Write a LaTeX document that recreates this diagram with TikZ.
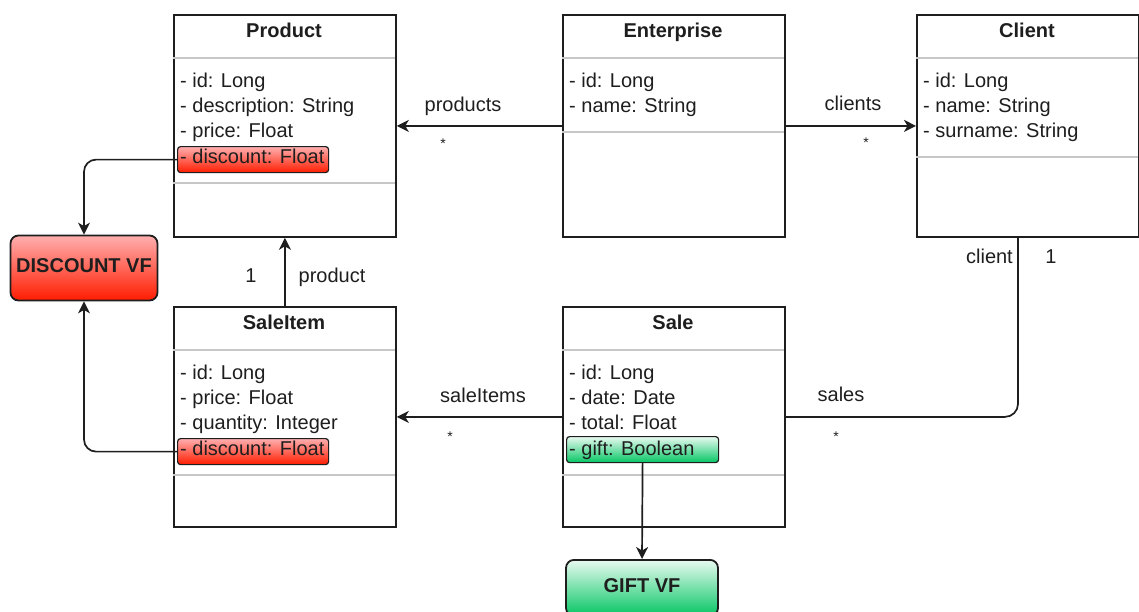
\documentclass[tikz,border=0pt]{standalone}
\usepackage{fontspec}
\setmainfont{Liberation Sans}
\usetikzlibrary{arrows.meta}

\definecolor{ink}{RGB}{30,30,30}
\definecolor{redtop}{RGB}{255,175,175}
\definecolor{redmid}{RGB}{255,60,50}
\definecolor{redbot}{RGB}{255,28,0}
\definecolor{greentop}{RGB}{232,250,240}
\definecolor{greenmid}{RGB}{110,226,165}
\definecolor{greenbot}{RGB}{5,198,100}

\tikzset{
  txt/.style={font=\fontsize{20}{24}\selectfont, text=ink, inner sep=0pt},
  classbox/.style={draw=ink, line width=1.8pt, fill=white, inner sep=0pt,
    minimum width=222pt, anchor=north west},
  classtitle/.style={txt, font=\fontsize{20}{24}\selectfont\bfseries, anchor=base},
  attr/.style={txt, anchor=base west},
  sepline/.style={draw=black!22, line width=2.2pt},
  redfield/.style={draw=ink, line width=1.2pt, rounded corners=3pt,
    top color=redtop, middle color=redmid, bottom color=redbot,
    minimum width=151pt, minimum height=26pt, inner sep=0pt, anchor=north west},
  greenfield/.style={redfield, top color=greentop, middle color=greenmid, bottom color=greenbot},
  vfbox/.style={draw=ink, line width=1.8pt, rounded corners=8pt, inner sep=0pt},
  vftext/.style={txt, font=\fontsize{20}{24}\selectfont\bfseries, anchor=base},
  rolelabel/.style={txt, anchor=base},
  star/.style={txt, font=\fontsize{14}{16}\selectfont, anchor=base},
  assoc/.style={draw=ink, line width=1.7pt},
  conn/.style={assoc, -{Stealth[length=12pt,width=12pt,inset=3.5pt]}},
}

\begin{document}
\begin{tikzpicture}[x=1pt,y=-1pt]
\useasboundingbox (0,0) rectangle (1139,611);

% ---------- classes ----------
\node[classbox, minimum height=222pt] (product) at (173,14) {};
\node[classbox, minimum height=222pt] (ent)     at (562,14) {};
\node[classbox, minimum height=222pt] (client)  at (916,14) {};
\node[classbox, minimum height=220pt] (saleitem) at (173,306) {};
\node[classbox, minimum height=220pt] (sale)     at (562,306) {};

% compartment separators
\draw[sepline] (173,58) -- (395,58);   \draw[sepline] (173,183) -- (395,183);
\draw[sepline] (562,58) -- (784,58);   \draw[sepline] (562,132) -- (784,132);
\draw[sepline] (916,58) -- (1138,58);  \draw[sepline] (916,157) -- (1138,157);
\draw[sepline] (173,350) -- (395,350); \draw[sepline] (173,475) -- (395,475);
\draw[sepline] (562,350) -- (784,350); \draw[sepline] (562,475) -- (784,475);

% highlighted fields
\node[redfield]   (pdisc) at (177,146) {};
\node[redfield]   (sdisc) at (177,438) {};
\node[greenfield, minimum width=152pt] (gift) at (566,436) {};

% titles
\node[classtitle] (productT)  at (284,37)  {Product};
\node[classtitle] (entT)      at (673,37)  {Enterprise};
\node[classtitle] (clientT)   at (1027,37) {Client};
\node[classtitle] (saleitemT) at (284,329) {SaleItem};
\node[classtitle] (saleT)     at (673,329) {Sale};

% attributes
\node[attr] (p1) at (180,87)  {- id: Long};
\node[attr] (p2) at (180,112) {- description: String};
\node[attr] (p3) at (180,137) {- price: Float};
\node[attr] (p4) at (180,163) {- discount: Float};

\node[attr] (e1) at (569,87)  {- id: Long};
\node[attr] (e2) at (569,112) {- name: String};

\node[attr] (c1) at (923,87)  {- id: Long};
\node[attr] (c2) at (923,112) {- name: String};
\node[attr] (c3) at (923,137) {- surname: String};

\node[attr] (s1) at (180,379) {- id: Long};
\node[attr] (s2) at (180,404) {- price: Float};
\node[attr] (s3) at (180,429) {- quantity: Integer};
\node[attr] (s4) at (180,455) {- discount: Float};

\node[attr] (a1) at (569,379) {- id: Long};
\node[attr] (a2) at (569,404) {- date: Date};
\node[attr] (a3) at (569,429) {- total: Float};
\node[attr] (a4) at (569,455) {- gift: Boolean};

% ---------- virtual field boxes ----------
\node[vfbox, minimum width=147pt, minimum height=65pt,
      top color=redtop, middle color=redmid, bottom color=redbot] (discvf) at (84,268) {};
\node[vftext] (discvfT) at (84,272) {DISCOUNT VF};
\node[vfbox, minimum width=152pt, minimum height=56pt, anchor=north,
      top color=greentop, middle color=greenmid, bottom color=greenbot] (giftvf) at (642,559) {};
\node[vftext] (giftvfT) at (642,592) {GIFT VF};

% ---------- associations ----------
\coordinate (cjoin) at (1018,236);
\draw[conn] (ent.west) -- (product.east);
\draw[conn] (ent.east) -- (client.west);
\draw[conn] (saleitem.north) -- (product.south);
\draw[conn] (sale.west) -- (saleitem.east);
\draw[assoc, rounded corners=13pt] (sale.east) -| (cjoin);
\draw[conn, rounded corners=12pt] (pdisc.west) -| (discvf.north);
\draw[conn, rounded corners=12pt] (sdisc.west) -| (discvf.south);
\draw[conn] (gift.south) -- (giftvf.north);

% role names and multiplicities
\node[rolelabel] (lproducts)  at (463,111) {products};
\node[star]      (mproducts)  at (443,148) {*};
\node[rolelabel] (lclients)   at (853,110) {clients};
\node[star]      (mclients)   at (866,147) {*};
\node[rolelabel] (mproduct)   at (251,282) {1};
\node[rolelabel] (lproduct)   at (332,282) {product};
\node[rolelabel] (lsaleitems) at (483,402) {saleItems};
\node[star]      (msaleitems) at (450,441) {*};
\node[rolelabel] (lsales)     at (841,401) {sales};
\node[star]      (msales)     at (836,441) {*};
\node[rolelabel, anchor=base east] (lclient) at (1013,263) {client};
\node[rolelabel] (mclient)    at (1051,263) {1};
\end{tikzpicture}
\end{document}
